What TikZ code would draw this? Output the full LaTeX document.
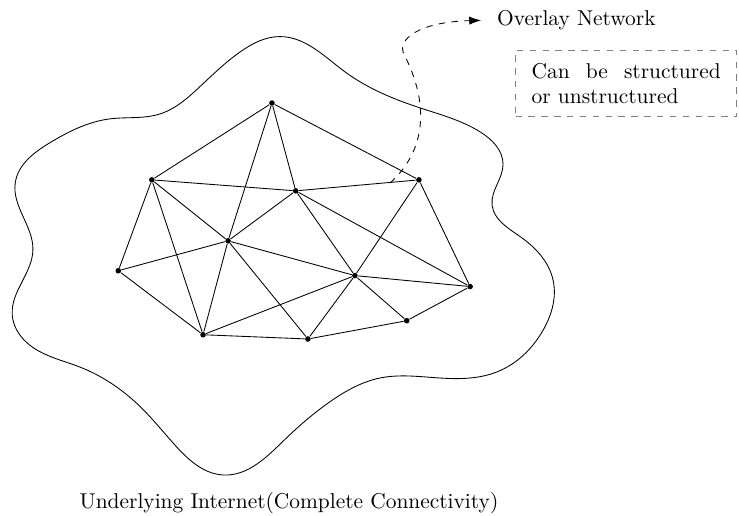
\documentclass[tikz,border=0pt]{standalone}
\usepackage{amsmath,amssymb}
\usepackage{xcolor}
\usepackage{tikz}
\usetikzlibrary{arrows.meta,hobby}

\begin{document}
\begin{tikzpicture}[
    peer/.style={circle, fill=black, inner sep=0pt, minimum size=2.6pt},
    note/.style={rectangle, draw=gray, dashed, text width=3.1cm, align=justify, inner xsep=7.5pt, inner ysep=6pt}]

    \useasboundingbox (0,0) rectangle (12.12,8.46);

    % Underlying internet
    \draw[use Hobby shortcut, closed=true]
        (4.59,7.86) .. (5.66,7.28) .. (6.89,6.69) .. (7.87,6.30) .. (8.25,5.76)
        .. (8.07,5.10) .. (8.53,4.58) .. (9.07,3.87) .. (8.91,3.05) .. (8.15,2.36)
        .. (7.22,2.26) .. (6.23,2.26) .. (5.41,1.87) .. (4.67,1.25) .. (3.66,0.67)
        .. (2.87,1.16) .. (2.30,1.79) .. (1.31,2.44) .. (0.44,2.84) .. (0.20,3.30)
        .. (0.54,4.36) .. (0.25,5.46) .. (0.82,6.12) .. (1.80,6.51) .. (2.62,6.59)
        .. (3.28,7.04) .. (3.94,7.61);

    \node[peer] (P1) at (4.46,6.77) {};
    \node[peer] (P2) at (2.49,5.51) {};
    \node[peer] (P3) at (4.85,5.33) {};
    \node[peer] (P4) at (6.87,5.51) {};
    \node[peer] (P5) at (3.74,4.51) {};
    \node[peer] (P6) at (1.94,4.02) {};
    \node[peer] (P7) at (5.82,3.94) {};
    \node[peer] (P8) at (7.71,3.76) {};
    \node[peer] (P9) at (3.33,2.97) {};
    \node[peer] (P10) at (5.05,2.90) {};
    \node[peer] (P11) at (6.67,3.20) {};

    \draw (P1) -- (P2);
    \draw (P1) -- (P3);
    \draw (P1) -- (P4);
    \draw (P1) -- (P5);
    \draw (P2) -- (P3);
    \draw (P3) -- (P4);
    \draw (P2) -- (P5);
    \draw (P2) -- (P6);
    \draw (P2) -- (P9);
    \draw (P5) -- (P3);
    \draw (P5) -- (P6);
    \draw (P5) -- (P9);
    \draw (P5) -- (P10);
    \draw (P5) -- (P7);
    \draw (P3) -- (P7);
    \draw (P3) -- (P8);
    \draw (P4) -- (P7);
    \draw (P4) -- (P8);
    \draw (P6) -- (P9);
    \draw (P7) -- (P8);
    \draw (P7) -- (P9);
    \draw (P7) -- (P10);
    \draw (P7) -- (P11);
    \draw (P9) -- (P10);
    \draw (P10) -- (P11);
    \draw (P11) -- (P8);

    % Labels
    \node[anchor=west] (OV) at (8.03,8.13) {Overlay Network};
    \node[note] (NOTE) at (10.27,7.09) {Can be structured or unstructured};
    \node (UI) at (4.74,0.20) {Underlying Internet(Complete Connectivity)};

    \coordinate (tail) at (6.40,5.46);
    \draw[dashed, -{Latex[length=5.5pt,width=3.8pt]}, shorten >=4pt] (tail) .. controls (7.08,6.08) and (6.97,6.90) .. (6.63,7.56)
        .. controls (6.49,7.82) and (6.89,8.10) .. (OV.west);
\end{tikzpicture}
\end{document}
